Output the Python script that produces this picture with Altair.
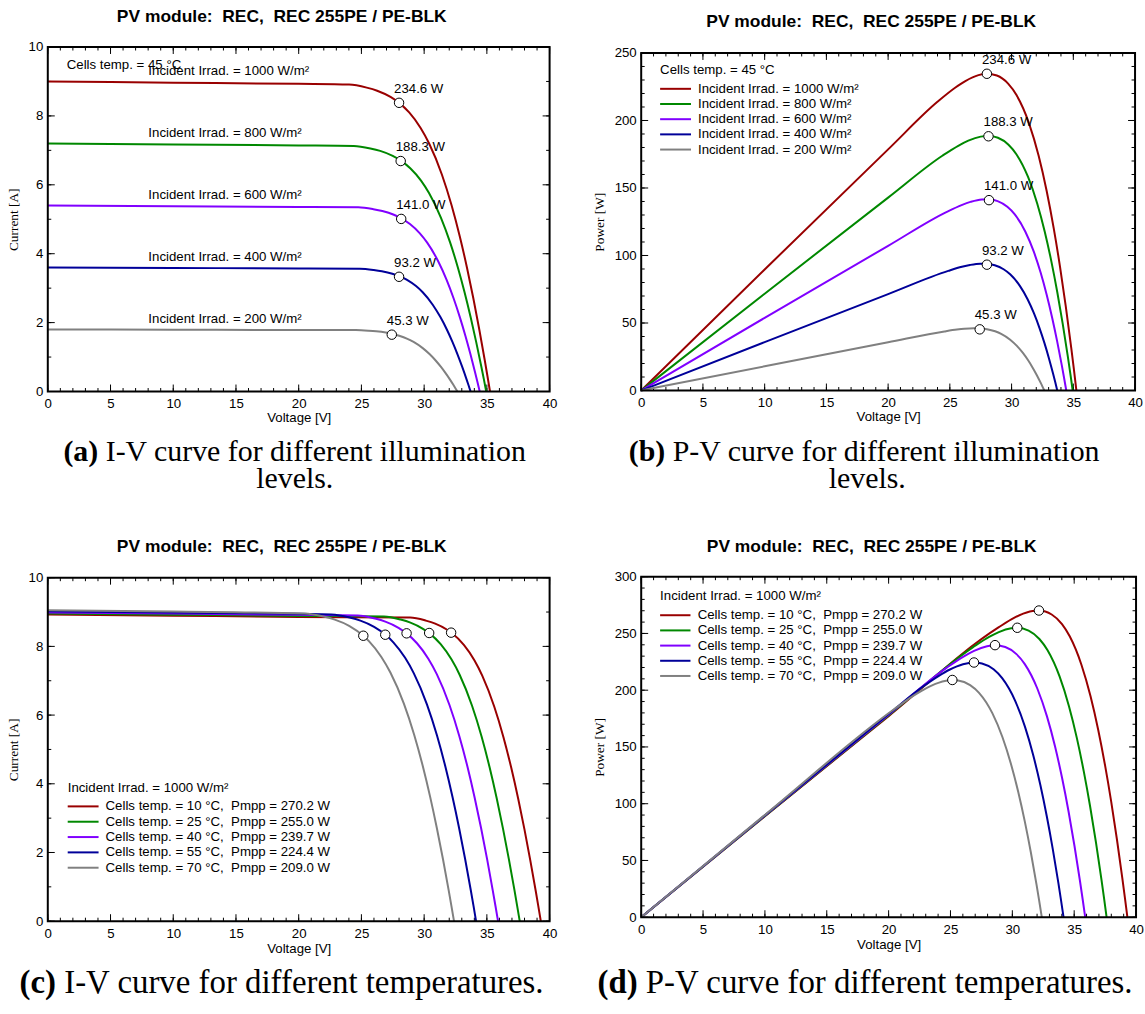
import altair as alt
import pandas as pd

SANS = "Liberation Sans"
SERIF = "Liberation Serif"
FS = 13.3

COLORS = ["#990000", "#008800", "#8000ff", "#000099", "#808080"]
TITLE = "PV module:\u00a0 REC,\u00a0 REC 255PE / PE-BLK"

# ---------------- cells at 45 °C, different irradiances ----------------
IRRADIANCES = ["1000", "800", "600", "400", "200"]
ISC_45 = [9.00, 7.20, 5.40, 3.60, 1.80]

V_1000 = [0, 10, 20, 24.017, 25.424, 26.255, 27.318, 28.001, 28.806, 29.719, 30.397, 31.412, 32.192, 32.842, 33.411, 33.924, 34.395, 34.835, 35.045, 35.25]
I_1000 = [9.00, 8.965, 8.930, 8.910, 8.820, 8.730, 8.550, 8.379, 8.100, 7.650, 7.200, 6.300, 5.400, 4.500, 3.600, 2.700, 1.800, 0.900, 0.450, 0]
P_1000 = [0, 89.65, 178.60, 213.99, 224.24, 229.21, 233.57, 234.62, 233.33, 227.35, 218.86, 197.90, 173.84, 147.79, 120.28, 91.59, 61.91, 31.35, 15.77, 0]

V_800 = [0, 10, 20, 24.391, 25.714, 26.495, 27.494, 28.136, 28.893, 29.751, 30.388, 31.342, 32.075, 32.687, 33.221, 33.703, 34.146, 34.560, 34.758, 34.95]
I_800 = [7.20, 7.172, 7.144, 7.128, 7.056, 6.984, 6.840, 6.703, 6.480, 6.120, 5.760, 5.040, 4.320, 3.600, 2.880, 2.160, 1.440, 0.720, 0.360, 0]
P_800 = [0, 71.72, 142.88, 173.86, 181.44, 185.04, 188.06, 188.60, 187.23, 182.08, 175.03, 157.96, 138.56, 117.67, 95.68, 72.80, 49.17, 24.88, 12.51, 0]

V_600 = [0, 10, 20, 24.756, 25.950, 26.668, 27.584, 28.174, 28.869, 29.657, 30.242, 31.118, 31.791, 32.352, 32.843, 33.286, 33.692, 34.072, 34.253, 34.43]
I_600 = [5.40, 5.379, 5.358, 5.346, 5.292, 5.238, 5.130, 5.027, 4.860, 4.590, 4.320, 3.780, 3.240, 2.700, 2.160, 1.620, 1.080, 0.540, 0.270, 0]
P_600 = [0, 53.79, 107.16, 132.35, 137.33, 139.69, 141.51, 141.63, 140.30, 136.13, 130.65, 117.63, 103.00, 87.35, 70.94, 53.92, 36.39, 18.40, 9.25, 0]

V_400 = [0, 10, 20, 24.871, 25.977, 26.630, 27.465, 28.002, 28.635, 29.353, 29.885, 30.683, 31.296, 31.808, 32.255, 32.658, 33.028, 33.374, 33.539, 33.70]
I_400 = [3.60, 3.586, 3.572, 3.564, 3.528, 3.492, 3.420, 3.352, 3.240, 3.060, 2.880, 2.520, 2.160, 1.800, 1.440, 1.080, 0.720, 0.360, 0.180, 0]
P_400 = [0, 35.86, 71.44, 88.64, 91.65, 92.99, 93.93, 93.86, 92.78, 89.82, 86.07, 77.32, 67.60, 57.25, 46.45, 35.27, 23.78, 12.02, 6.04, 0]

V_200 = [0, 10, 20, 24.562, 25.575, 26.174, 26.939, 27.431, 28.010, 28.668, 29.156, 29.887, 30.448, 30.916, 31.326, 31.695, 32.035, 32.351, 32.503, 32.65]
I_200 = [1.80, 1.793, 1.786, 1.782, 1.764, 1.746, 1.710, 1.676, 1.620, 1.530, 1.440, 1.260, 1.080, 0.900, 0.720, 0.540, 0.360, 0.180, 0.090, 0]
P_200 = [0, 17.93, 35.72, 43.77, 45.11, 45.70, 46.07, 45.97, 45.38, 43.86, 41.99, 37.66, 32.88, 27.82, 22.56, 17.12, 11.53, 5.82, 2.93, 0]

MPP_V_45 = [28.00, 28.13, 28.17, 28.00, 27.42]
MPP_I_45 = [8.38, 6.69, 5.01, 3.33, 1.65]
MPP_P_45 = [234.6, 188.3, 141.0, 93.2, 45.3]

# ---------------- 1000 W/m², different cell temperatures ----------------
TEMPS = ["10", "25", "40", "55", "70"]

V_T10 = [0, 10, 20, 28.880, 30.137, 30.881, 31.835, 32.150, 33.181, 34.015, 34.639, 35.585, 36.322, 36.944, 37.493, 37.992, 38.454, 38.888, 39.096, 39.30]
I_T10 = [8.93, 8.894, 8.858, 8.841, 8.751, 8.662, 8.484, 8.403, 8.037, 7.591, 7.144, 6.251, 5.358, 4.465, 3.572, 2.679, 1.786, 0.893, 0.447, 0]
P_T10 = [0, 88.94, 177.16, 255.33, 263.73, 267.49, 270.07, 270.16, 266.68, 258.19, 247.46, 222.44, 194.61, 164.95, 133.93, 101.78, 68.68, 34.73, 17.46, 0]

V_T25 = [0, 10, 20, 26.803, 28.124, 28.906, 29.907, 30.401, 31.317, 32.187, 32.837, 33.818, 34.578, 35.217, 35.779, 36.289, 36.760, 37.202, 37.413, 37.62]
I_T25 = [8.96, 8.924, 8.888, 8.870, 8.781, 8.691, 8.512, 8.387, 8.064, 7.616, 7.168, 6.272, 5.376, 4.480, 3.584, 2.688, 1.792, 0.896, 0.448, 0]
P_T25 = [0, 89.24, 177.76, 237.75, 246.95, 251.23, 254.57, 254.96, 252.54, 245.14, 235.38, 212.11, 185.89, 157.77, 128.23, 97.55, 65.87, 33.33, 16.76, 0]

V_T40 = [0, 10, 20, 24.701, 26.087, 26.907, 27.956, 28.600, 29.428, 30.333, 31.007, 32.019, 32.800, 33.454, 34.027, 34.545, 35.022, 35.468, 35.682, 35.89]
I_T40 = [8.99, 8.954, 8.918, 8.900, 8.810, 8.720, 8.541, 8.379, 8.091, 7.642, 7.192, 6.293, 5.394, 4.495, 3.596, 2.697, 1.798, 0.899, 0.450, 0]
P_T40 = [0, 89.54, 178.36, 219.84, 229.83, 234.64, 238.76, 239.63, 238.10, 231.79, 223.00, 201.50, 176.92, 150.38, 122.36, 93.17, 62.97, 31.89, 16.04, 0]

V_T55 = [0, 10, 20, 22.609, 24.060, 24.917, 26.011, 26.900, 27.544, 28.483, 29.179, 30.221, 31.019, 31.685, 32.266, 32.789, 33.270, 33.718, 33.932, 34.14]
I_T55 = [9.02, 8.984, 8.948, 8.930, 8.840, 8.749, 8.569, 8.344, 8.118, 7.667, 7.216, 6.314, 5.412, 4.510, 3.608, 2.706, 1.804, 0.902, 0.451, 0]
P_T55 = [0, 89.84, 178.96, 201.90, 212.68, 218.01, 222.89, 224.44, 223.60, 218.38, 210.56, 190.82, 167.87, 142.90, 116.42, 88.73, 60.02, 30.41, 15.30, 0]

V_T70 = [0, 10, 20.468, 21.983, 22.877, 24.019, 25.150, 25.614, 26.589, 27.309, 28.384, 29.204, 29.885, 30.479, 31.011, 31.499, 31.953, 32.169, 32.38]
I_T70 = [9.05, 9.014, 8.960, 8.869, 8.779, 8.598, 8.308, 8.145, 7.693, 7.240, 6.335, 5.430, 4.525, 3.620, 2.715, 1.810, 0.905, 0.453, 0]
P_T70 = [0, 90.14, 183.38, 194.97, 200.83, 206.50, 208.94, 208.63, 204.54, 197.72, 179.81, 158.58, 135.23, 110.33, 84.20, 57.01, 28.92, 14.56, 0]

MPP_V_T = [32.15, 30.40, 28.60, 26.90, 25.15]
MPP_I_T = [8.40, 8.39, 8.38, 8.34, 8.31]
MPP_P_T = [270.2, 255.0, 239.7, 224.4, 209.0]

# ---------------- axes ----------------
X_MAJOR = [0, 5, 10, 15, 20, 25, 30, 35, 40]
X_MINOR = list(range(0, 41))
I_MAJOR = [0, 2, 4, 6, 8, 10]
I_MINOR = list(range(0, 11))
P250_MAJOR = [0, 50, 100, 150, 200, 250]
P250_MINOR = list(range(0, 251, 10))
P300_MAJOR = [0, 50, 100, 150, 200, 250, 300]
P300_MINOR = list(range(0, 301, 10))

IRR_LABELS = [f"Incident Irrad. = {g} W/m\u00b2" for g in IRRADIANCES]
T_LABELS = [f"Cells temp. = {t} \u00b0C,\u00a0 Pmpp = {p:.1f} W" for t, p in zip(TEMPS, MPP_P_T)]

DUMMY = pd.DataFrame({"a": [0]})


def curves_df(names, vs, ys):
    rows = []
    for n, v, y in zip(names, vs, ys):
        rows += [{"s": n, "x": a, "y": b} for a, b in zip(v, y)]
    return pd.DataFrame(rows)


def txt(x, y, s, align="left", size=FS, font=SANS, weight="normal"):
    return alt.Chart(DUMMY).mark_text(
        align=align, baseline="middle", font=font, fontSize=size,
        fontWeight=weight, color="black", text=s
    ).encode(x=alt.value(x), y=alt.value(y))


def legend(xl0, xl1, xt, ytitle, title, rows, labels):
    layers = [txt(xl0, ytitle, title)]
    for yy, lab, col in zip(rows, labels, COLORS):
        layers.append(alt.Chart(DUMMY).mark_rule(color=col, strokeWidth=2).encode(
            x=alt.value(xl0), x2=alt.value(xl1), y=alt.value(yy)))
        layers.append(txt(xt, yy, lab))
    return layers


def caption(cx, y, bold, rest, bold_u, rest_u, size):
    k = size / 1000.0
    total = (bold_u + 250 + rest_u) * k
    x0 = cx - total / 2
    return [txt(x0, y, bold, size=size, font=SERIF, weight="bold"),
            txt(x0 + (bold_u + 250) * k, y, rest, size=size, font=SERIF)]


def panel(w, h, ft, ydom, ymaj, ymin, ytitle, ytx, xty, names, vs, ys, mv, my, mlabels,
          cell, title_y, extras):
    H = ft + h
    xs = alt.Scale(domain=[0, 40], nice=False, zero=False)
    yscale = alt.Scale(domain=ydom, nice=False, zero=False, range=[H, ft])
    xaxis = alt.Axis(values=X_MAJOR, title="Voltage [V]", titleFont=SANS,
                     titleFontSize=FS, titleFontWeight="normal", titleY=xty,
                     titleBaseline="middle", labelFlush=False, labelOverlap=False,
                     grid=False, ticks=False, domain=False, labelFontSize=FS,
                     labelFont=SANS, labelColor="black", labelPadding=5)
    yaxis = alt.Axis(values=ymaj, title=ytitle, titleFont=SERIF, titleFontSize=13.4,
                     titleFontWeight="normal", titleX=ytx, titleY=ft + h / 2,
                     titleAngle=270, titleAlign="center", titleBaseline="middle",
                     labelOverlap=False, grid=False, ticks=False, domain=False,
                     labelFontSize=FS, labelFont=SANS, labelColor="black", labelPadding=5)

    def X(f):
        return alt.X(f, type="quantitative", scale=xs, axis=xaxis)

    def Y(f):
        return alt.Y(f, type="quantitative", scale=yscale, axis=yaxis)

    layers = []
    # cell extent (invisible) -> fixes the layout of the 2x2 grid
    layers.append(alt.Chart(DUMMY).mark_rect(opacity=0).encode(
        x=alt.value(cell[0]), x2=alt.value(cell[1]),
        y=alt.value(cell[2]), y2=alt.value(cell[3])))
    # inward ticks on the four sides
    for vals, ln in ((X_MINOR, 3.5), (X_MAJOR, 7)):
        d = pd.DataFrame({"x": vals})
        layers.append(alt.Chart(d).mark_rule(color="black", strokeWidth=1).encode(
            x=X("x"), y=alt.value(H), y2=alt.value(H - ln)))
        layers.append(alt.Chart(d).mark_rule(color="black", strokeWidth=1).encode(
            x=X("x"), y=alt.value(ft), y2=alt.value(ft + ln)))
    for vals, ln in ((ymin, 3.5), (ymaj, 7)):
        d = pd.DataFrame({"y": vals})
        layers.append(alt.Chart(d).mark_rule(color="black", strokeWidth=1).encode(
            y=Y("y"), x=alt.value(0), x2=alt.value(ln)))
        layers.append(alt.Chart(d).mark_rule(color="black", strokeWidth=1).encode(
            y=Y("y"), x=alt.value(w), x2=alt.value(w - ln)))
    # curves
    cd = curves_df(names, vs, ys)
    layers.append(alt.Chart(cd).mark_line(strokeWidth=2, interpolate="monotone").encode(
        x=X("x"), y=Y("y"),
        color=alt.Color("s:N", scale=alt.Scale(domain=names, range=COLORS), legend=None)))
    # frame
    layers.append(alt.Chart(DUMMY).mark_rect(filled=False, color="black", strokeWidth=2).encode(
        x=alt.value(0), x2=alt.value(w), y=alt.value(ft), y2=alt.value(H)))
    # maximum power points
    md = pd.DataFrame({"x": mv, "y": my, "t": mlabels if mlabels else [""] * len(mv)})
    layers.append(alt.Chart(md).mark_point(shape="circle", filled=True, fill="white",
                                           stroke="black", strokeWidth=1, size=90,
                                           opacity=1).encode(x=X("x"), y=Y("y")))
    if mlabels:
        layers.append(alt.Chart(md).mark_text(align="left", baseline="middle", dx=-5, dy=-14,
                                              font=SANS, fontSize=FS, color="black").encode(
            x=X("x"), y=Y("y"), text="t:N"))
    # title
    layers.append(txt(w / 2 - 17, title_y, TITLE, align="center", size=17.5, weight="bold"))
    layers += extras(Y)
    return alt.layer(*layers).properties(width=w, height=H)


CAP1 = 30
CAP2 = 33


def extras_a(Y):
    d = pd.DataFrame({"y": ISC_45, "t": IRR_LABELS})
    lab = alt.Chart(d).mark_text(align="left", baseline="middle", dy=-10.6, font=SANS,
                                 fontSize=FS, color="black").encode(
        x=alt.value(101), y=Y("y"), text="t:N")
    return ([txt(19, 18, "Cells temp. = 45 \u00b0C"), lab]
            + caption(251.5, 407, "(a)", "I-V curve for different illumination", 1166, 14306, CAP1)
            + [txt(248, 434, "levels.", align="center", size=CAP1, font=SERIF)])


def extras_b(Y):
    return (legend(19, 50, 57, 23, "Cells temp. = 45 \u00b0C", [42, 57.25, 72.5, 87.75, 103], IRR_LABELS)
            + caption(227.5, 407, "(b)", "P-V curve for different illumination", 1222, 14529, CAP1)
            + [txt(227, 434, "levels.", align="center", size=CAP1, font=SERIF)])


def extras_c(Y):
    return (legend(20, 51, 58, 212, "Incident Irrad. = 1000 W/m\u00b2",
                   [230.7, 246.1, 261.5, 276.9, 292.3], T_LABELS)
            + caption(235.5, 408, "(c)", "I-V curve for different temperatures.", 1110, 14634, CAP2))


def extras_d(Y):
    return (legend(19, 49.5, 56.7, 19.7, "Incident Irrad. = 1000 W/m\u00b2",
                   [38.7, 53.95, 69.2, 84.45, 99.7], T_LABELS)
            + caption(225.5, 408, "(d)", "P-V curve for different temperatures.", 1222, 14857, CAP2))


pa = panel(504, 346, 0, [0, 10], I_MAJOR, I_MINOR, "Current [A]", -34, 25.7, IRR_LABELS,
           [V_1000, V_800, V_600, V_400, V_200], [I_1000, I_800, I_600, I_400, I_200],
           MPP_V_45, MPP_I_45, [f"{p:.1f} W" for p in MPP_P_45], (-48, 547, -45, 485), -30, extras_a)
pb = panel(496, 339, 6, [0, 250], P250_MAJOR, P250_MINOR, "Power [W]", -41.5, 25.7, IRR_LABELS,
           [V_1000, V_800, V_600, V_400, V_200], [P_1000, P_800, P_600, P_400, P_200],
           MPP_V_45, MPP_P_45, [f"{p:.1f} W" for p in MPP_P_45], (-44, 506, -45, 485), -25, extras_b)
pc = panel(504, 345, 1, [0, 10], I_MAJOR, I_MINOR, "Current [A]", -34.5, 27.7, T_LABELS,
           [V_T10, V_T25, V_T40, V_T55, V_T70], [I_T10, I_T25, I_T40, I_T55, I_T70],
           MPP_V_T, MPP_I_T, None, (-48, 547, -47, 437), -30.3, extras_c)
pd_ = panel(497, 342, 0, [0, 300], P300_MAJOR, P300_MINOR, "Power [W]", -41.5, 27.7, T_LABELS,
            [V_T10, V_T25, V_T40, V_T55, V_T70], [P_T10, P_T25, P_T40, P_T55, P_T70],
            MPP_V_T, MPP_P_T, None, (-44, 506, -47, 437), -30.3, extras_d)

chart = alt.vconcat(
    alt.hconcat(pa, pb, spacing=0),
    alt.hconcat(pc, pd_, spacing=0),
    spacing=0,
).properties(padding=0, background="white").configure_view(
    strokeOpacity=0, fill="white"
).configure_axis(
    ticks=False, tickSize=0, domain=False, grid=False, labelFont=SANS, labelFontSize=FS,
    labelColor="black", labelPadding=5, titleColor="black"
)

chart.save("out.html", embed_options={"renderer": "svg", "actions": False})
